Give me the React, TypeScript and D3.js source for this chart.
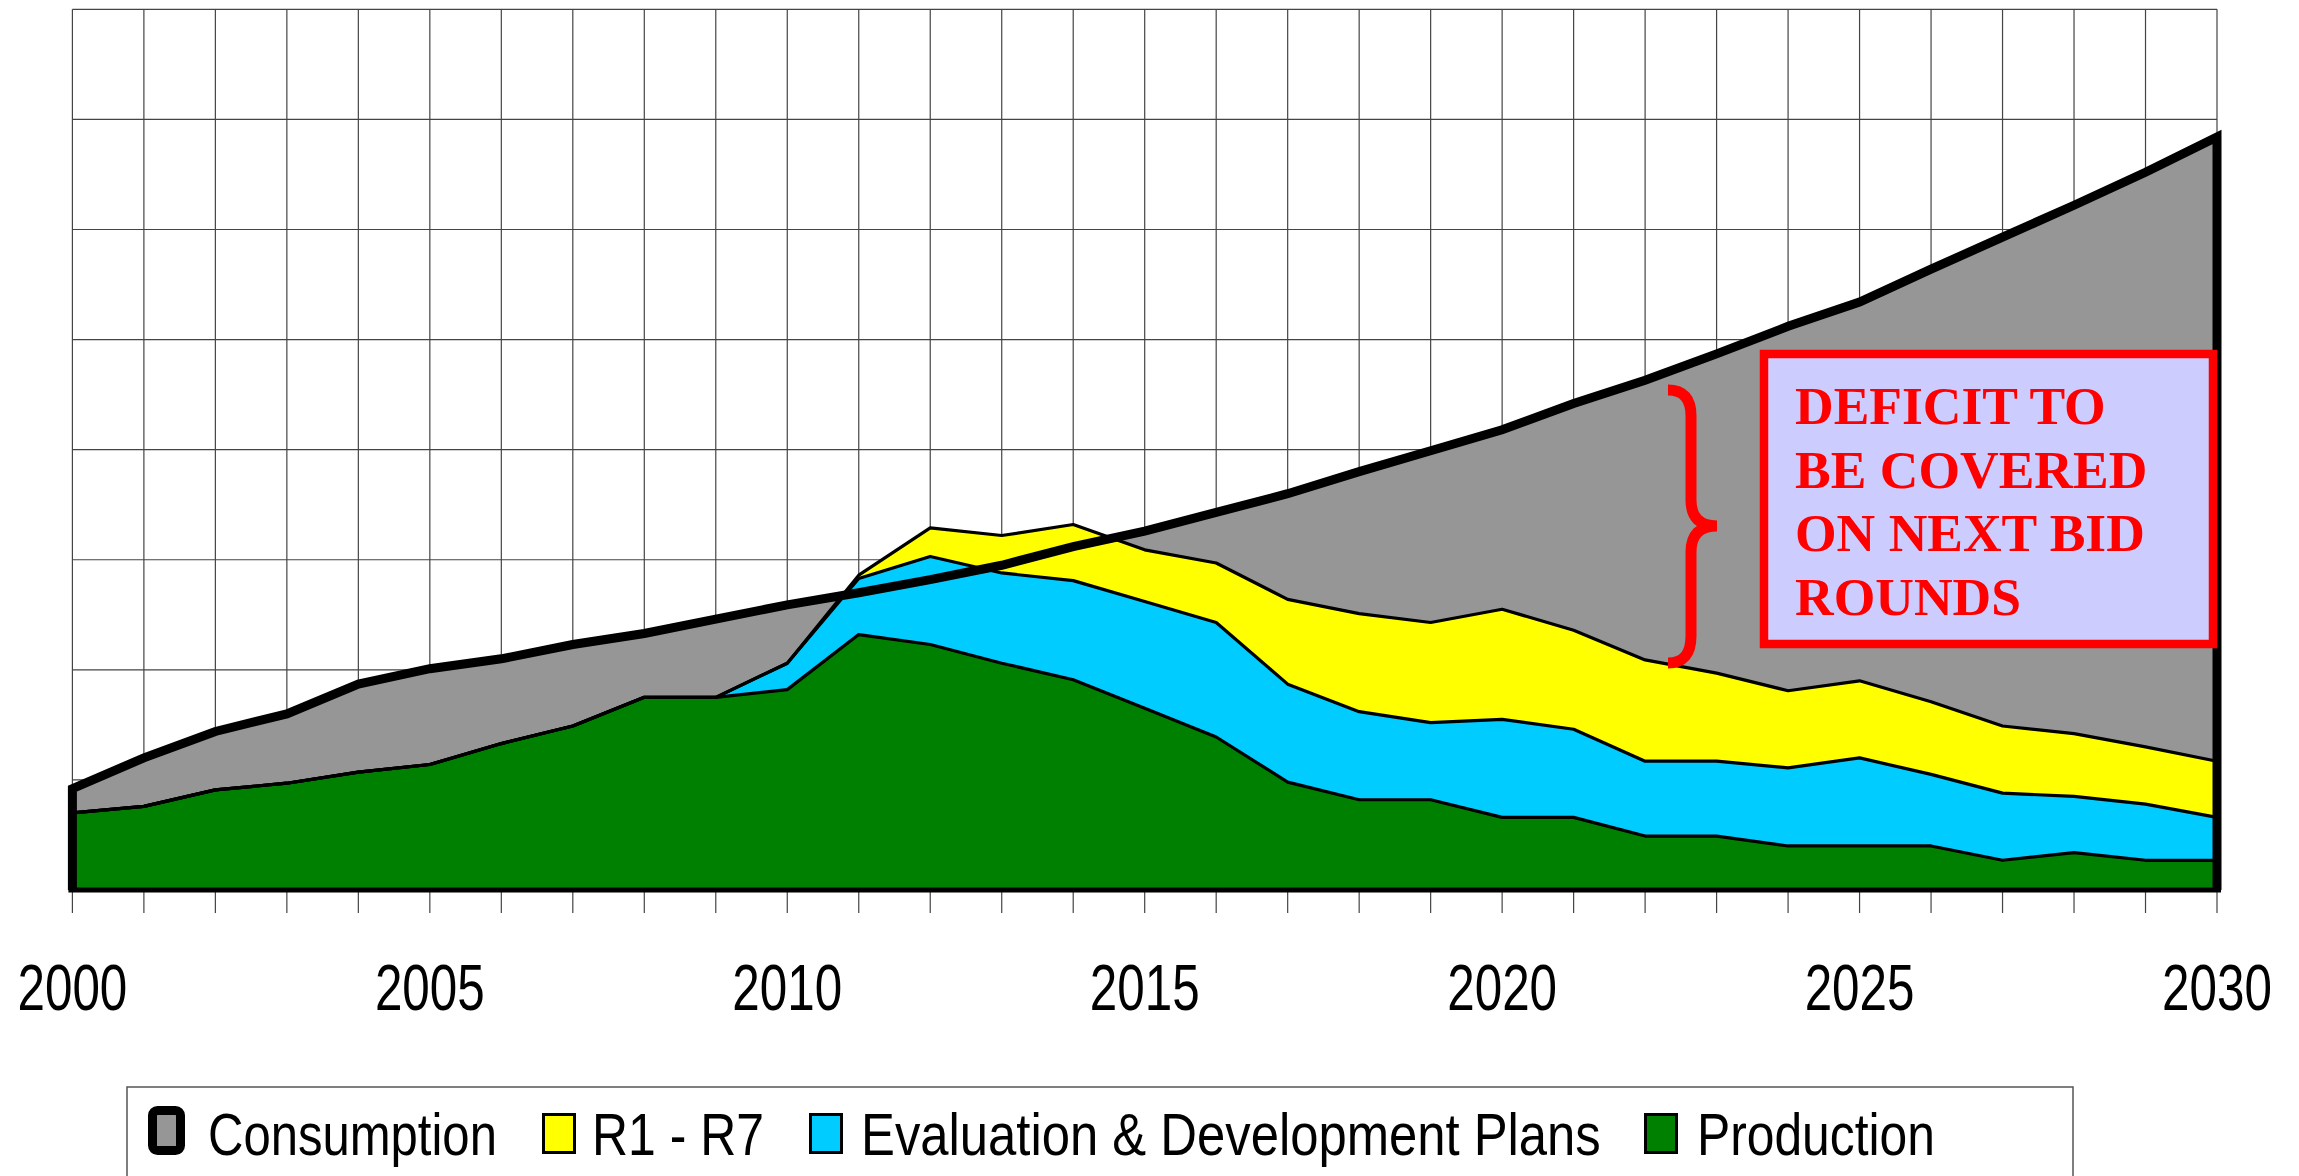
import React, { useEffect, useRef } from "react";
import * as d3 from "d3";

// years on the x axis
const years = [2000, 2001, 2002, 2003, 2004, 2005, 2006, 2007, 2008, 2009, 2010,
  2011, 2012, 2013, 2014, 2015, 2016, 2017, 2018, 2019, 2020,
  2021, 2022, 2023, 2024, 2025, 2026, 2027, 2028, 2029, 2030];

// values in grid units (no y labels on the original)
const consumption = [0.92, 1.20, 1.44, 1.60, 1.87, 2.01, 2.10, 2.23, 2.33, 2.46, 2.59,
  2.70, 2.82, 2.95, 3.12, 3.26, 3.43, 3.60, 3.80, 3.99, 4.18,
  4.42, 4.63, 4.87, 5.12, 5.34, 5.64, 5.93, 6.22, 6.52, 6.84];
const production = [0.70, 0.76, 0.91, 0.97, 1.07, 1.14, 1.33, 1.49, 1.75, 1.75, 1.82,
  2.32, 2.23, 2.06, 1.91, 1.65, 1.39, 0.98, 0.82, 0.82, 0.66,
  0.66, 0.49, 0.49, 0.40, 0.40, 0.40, 0.27, 0.34, 0.27, 0.27];
const evaluation = [0, 0, 0, 0, 0, 0, 0, 0, 0, 0, 0.24,
  0.51, 0.80, 0.82, 0.90, 0.97, 1.04, 0.89, 0.80, 0.70, 0.89,
  0.80, 0.68, 0.68, 0.71, 0.80, 0.65, 0.61, 0.51, 0.51, 0.39];
const rounds = [0, 0, 0, 0, 0, 0, 0, 0, 0, 0, 0,
  0.03, 0.26, 0.34, 0.51, 0.47, 0.54, 0.77, 0.89, 0.91, 1.00,
  0.90, 0.92, 0.80, 0.70, 0.70, 0.66, 0.61, 0.57, 0.52, 0.51];

const tickLabels = ["2000", "2005", "2010", "2015", "2020", "2025", "2030"];
const legendNames = ["Consumption", "R1 - R7", "Evaluation & Development Plans", "Production"];
const deficitLines = ["DEFICIT TO", "BE COVERED", "ON NEXT BID", "ROUNDS"];

const W = 2299;
const H = 1176;
const colors = { cons: "#969696", rounds: "#ffff00", evaluation: "#00ccff", production: "#008000" };

export default function App() {
  const ref = useRef(null);

  useEffect(() => {
    const svg = d3.select(ref.current);
    svg.selectAll("*").remove();

    const x = d3.scaleLinear().domain([2000, 2030]).range([72.4, 2217]);
    const y = d3.scaleLinear().domain([0, 8]).range([890, 9.3]);

    svg.append("rect").attr("width", W).attr("height", H).attr("fill", "#fff");

    // grid
    const grid = svg.append("g").attr("stroke", "#444").attr("stroke-width", 1.2);
    y.ticks(8).forEach(v => {
      grid.append("line").attr("x1", x(2000)).attr("x2", x(2030)).attr("y1", y(v)).attr("y2", y(v));
    });
    years.forEach(yr => {
      grid.append("line").attr("x1", x(yr)).attr("x2", x(yr)).attr("y1", y(8)).attr("y2", y(0) + 23);
    });

    const rows = years.map((yr, i) => ({
      year: yr,
      production: production[i],
      evaluation: evaluation[i],
      rounds: rounds[i],
    }));

    // consumption area behind
    const consArea = d3.area()
      .x((d, i) => x(years[i]))
      .y0(y(0))
      .y1(d => y(d));
    svg.append("path").attr("d", consArea(consumption)).attr("fill", colors.cons);

    const stack = d3.stack().keys(["production", "evaluation", "rounds"]);
    const layers = stack(rows);
    const area = d3.area()
      .x(d => x(d.data.year))
      .y0(d => y(d[0]))
      .y1(d => y(d[1]));
    const topLine = d3.line()
      .x(d => x(d.data.year))
      .y(d => y(d[1]));

    svg.selectAll("path.layer")
      .data(layers)
      .enter()
      .append("path")
      .attr("class", "layer")
      .attr("d", area)
      .attr("fill", d => colors[d.key]);

    svg.selectAll("path.layer-top")
      .data(layers.slice().reverse())
      .enter()
      .append("path")
      .attr("class", "layer-top")
      .attr("d", topLine)
      .attr("fill", "none")
      .attr("stroke", "#000")
      .attr("stroke-width", 3.2)
      .attr("stroke-linejoin", "round");

    // consumption outline on top
    const consLine = d3.line()
      .x(d => x(d[0]))
      .y(d => y(d[1]));
    const outline = [[2000, 0], ...years.map((yr, i) => [yr, consumption[i]]), [2030, 0]];
    svg.append("path")
      .attr("d", consLine(outline))
      .attr("fill", "none")
      .attr("stroke", "#000")
      .attr("stroke-width", 9)
      .attr("stroke-linejoin", "miter");
    svg.append("line")
      .attr("x1", x(2000) - 4).attr("x2", x(2030) + 4)
      .attr("y1", y(0)).attr("y2", y(0))
      .attr("stroke", "#000").attr("stroke-width", 5);

    // x labels
    svg.selectAll("text.tick")
      .data(tickLabels)
      .enter()
      .append("text")
      .attr("class", "tick")
      .attr("transform", d => `translate(${x(+d)},1010) scale(0.76,1)`)
      .attr("text-anchor", "middle")
      .attr("font-family", "Liberation Sans, Arial, sans-serif")
      .attr("font-size", 65)
      .attr("fill", "#000")
      .text(d => d);

    // annotation
    svg.append("rect")
      .attr("x", 1764).attr("y", 354).attr("width", 449).attr("height", 290)
      .attr("fill", "#ccccff").attr("stroke", "#ff0000").attr("stroke-width", 8.5);
    svg.selectAll("text.deficit")
      .data(deficitLines)
      .enter()
      .append("text")
      .attr("class", "deficit")
      .attr("x", 1795)
      .attr("y", (d, i) => 424 + i * 63.7)
      .attr("font-family", "Liberation Serif, Times New Roman, serif")
      .attr("font-weight", "bold")
      .attr("font-size", 53.5)
      .attr("fill", "#ff0000")
      .text(d => d);
    svg.append("path")
      .attr("d", "M1668,390 Q1691,390 1691,416 L1691,500 Q1691,526 1717,526 Q1691,526 1691,552 L1691,636 Q1691,663 1668,663")
      .attr("fill", "none").attr("stroke", "#ff0000").attr("stroke-width", 11);

    // legend
    const lg = svg.append("g");
    lg.append("rect")
      .attr("x", 127).attr("y", 1087).attr("width", 1946).attr("height", 120)
      .attr("fill", "#fff").attr("stroke", "#555").attr("stroke-width", 1.5);
    const swatchX = [148, 542, 809, 1644];
    const textX = [208, 592, 861, 1697];
    const textW = [289, 172, 740, 238];
    const fills = [colors.cons, colors.rounds, colors.evaluation, colors.production];
    legendNames.forEach((name, i) => {
      if (i === 0) {
        lg.append("rect").attr("x", swatchX[i] + 4.5).attr("y", 1110.5).attr("width", 28).attr("height", 40)
          .attr("rx", 5).attr("fill", fills[i]).attr("stroke", "#000").attr("stroke-width", 9);
      } else {
        lg.append("rect").attr("x", swatchX[i] + 1.5).attr("y", 1114.5).attr("width", 31).attr("height", 38)
          .attr("fill", fills[i]).attr("stroke", "#000").attr("stroke-width", 3);
      }
      const t = lg.append("text")
        .attr("font-family", "Liberation Sans, Arial, sans-serif")
        .attr("font-size", 60)
        .attr("fill", "#000")
        .text(name);
      const natural = t.node().getComputedTextLength() || textW[i];
      t.attr("transform", `translate(${textX[i]},1155) scale(${textW[i] / natural},1)`);
    });
  }, []);

  return (
    <svg
      ref={ref}
      width={W}
      height={H}
      style={{ position: "absolute", left: 0, top: 0, display: "block" }}
    />
  );
}
